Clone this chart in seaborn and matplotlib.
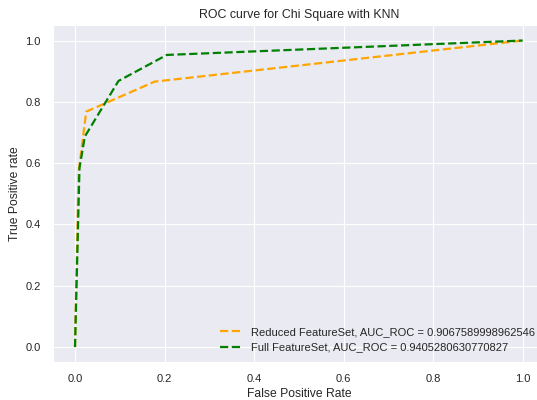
import matplotlib
matplotlib.use("Agg")
import matplotlib.pyplot as plt
import seaborn as sns
import pandas as pd

reduced_fpr = [0.0, 0.008, 0.025, 0.178, 1.0]
reduced_tpr = [0.0, 0.57, 0.768, 0.866, 1.0]
full_fpr = [0.0, 0.010, 0.022, 0.097, 0.205, 1.0]
full_tpr = [0.0, 0.585, 0.687, 0.868, 0.953, 1.0]
labels = ["Reduced FeatureSet, AUC_ROC = 0.9067589998962546",
          "Full FeatureSet, AUC_ROC = 0.9405280630770827"]

sns.set_style("darkgrid")
plt.rcParams['font.family'] = ['Liberation Sans', 'DejaVu Sans']

fig = plt.figure(figsize=(5.37, 4.0), dpi=100)
ax = fig.add_axes([0.098, 0.094, 0.917, 0.843])

df_r = pd.DataFrame({"fpr": reduced_fpr, "tpr": reduced_tpr})
df_f = pd.DataFrame({"fpr": full_fpr, "tpr": full_tpr})
sns.lineplot(data=df_r, x="fpr", y="tpr", ax=ax, color="orange", linestyle="--",
             label=labels[0], sort=False, estimator=None, linewidth=1.6)
sns.lineplot(data=df_f, x="fpr", y="tpr", ax=ax, color="green", linestyle="--",
             label=labels[1], sort=False, estimator=None, linewidth=1.6)

ax.set_xlim(-0.05, 1.05)
ax.set_ylim(-0.05, 1.05)
ax.set_xticks([0.0, 0.2, 0.4, 0.6, 0.8, 1.0])
ax.set_yticks([0.0, 0.2, 0.4, 0.6, 0.8, 1.0])
ax.tick_params(labelsize=8.0, pad=5)
ax.set_title("ROC curve for Chi Square with KNN", fontsize=8.9, pad=5)
ax.set_xlabel("False Positive Rate", fontsize=8.7, labelpad=3)
ax.set_ylabel("True Positive rate", fontsize=8.7, labelpad=3)
ax.legend(loc="lower right", frameon=False, fontsize=8.0)

fig.savefig("out.png", dpi=100)
